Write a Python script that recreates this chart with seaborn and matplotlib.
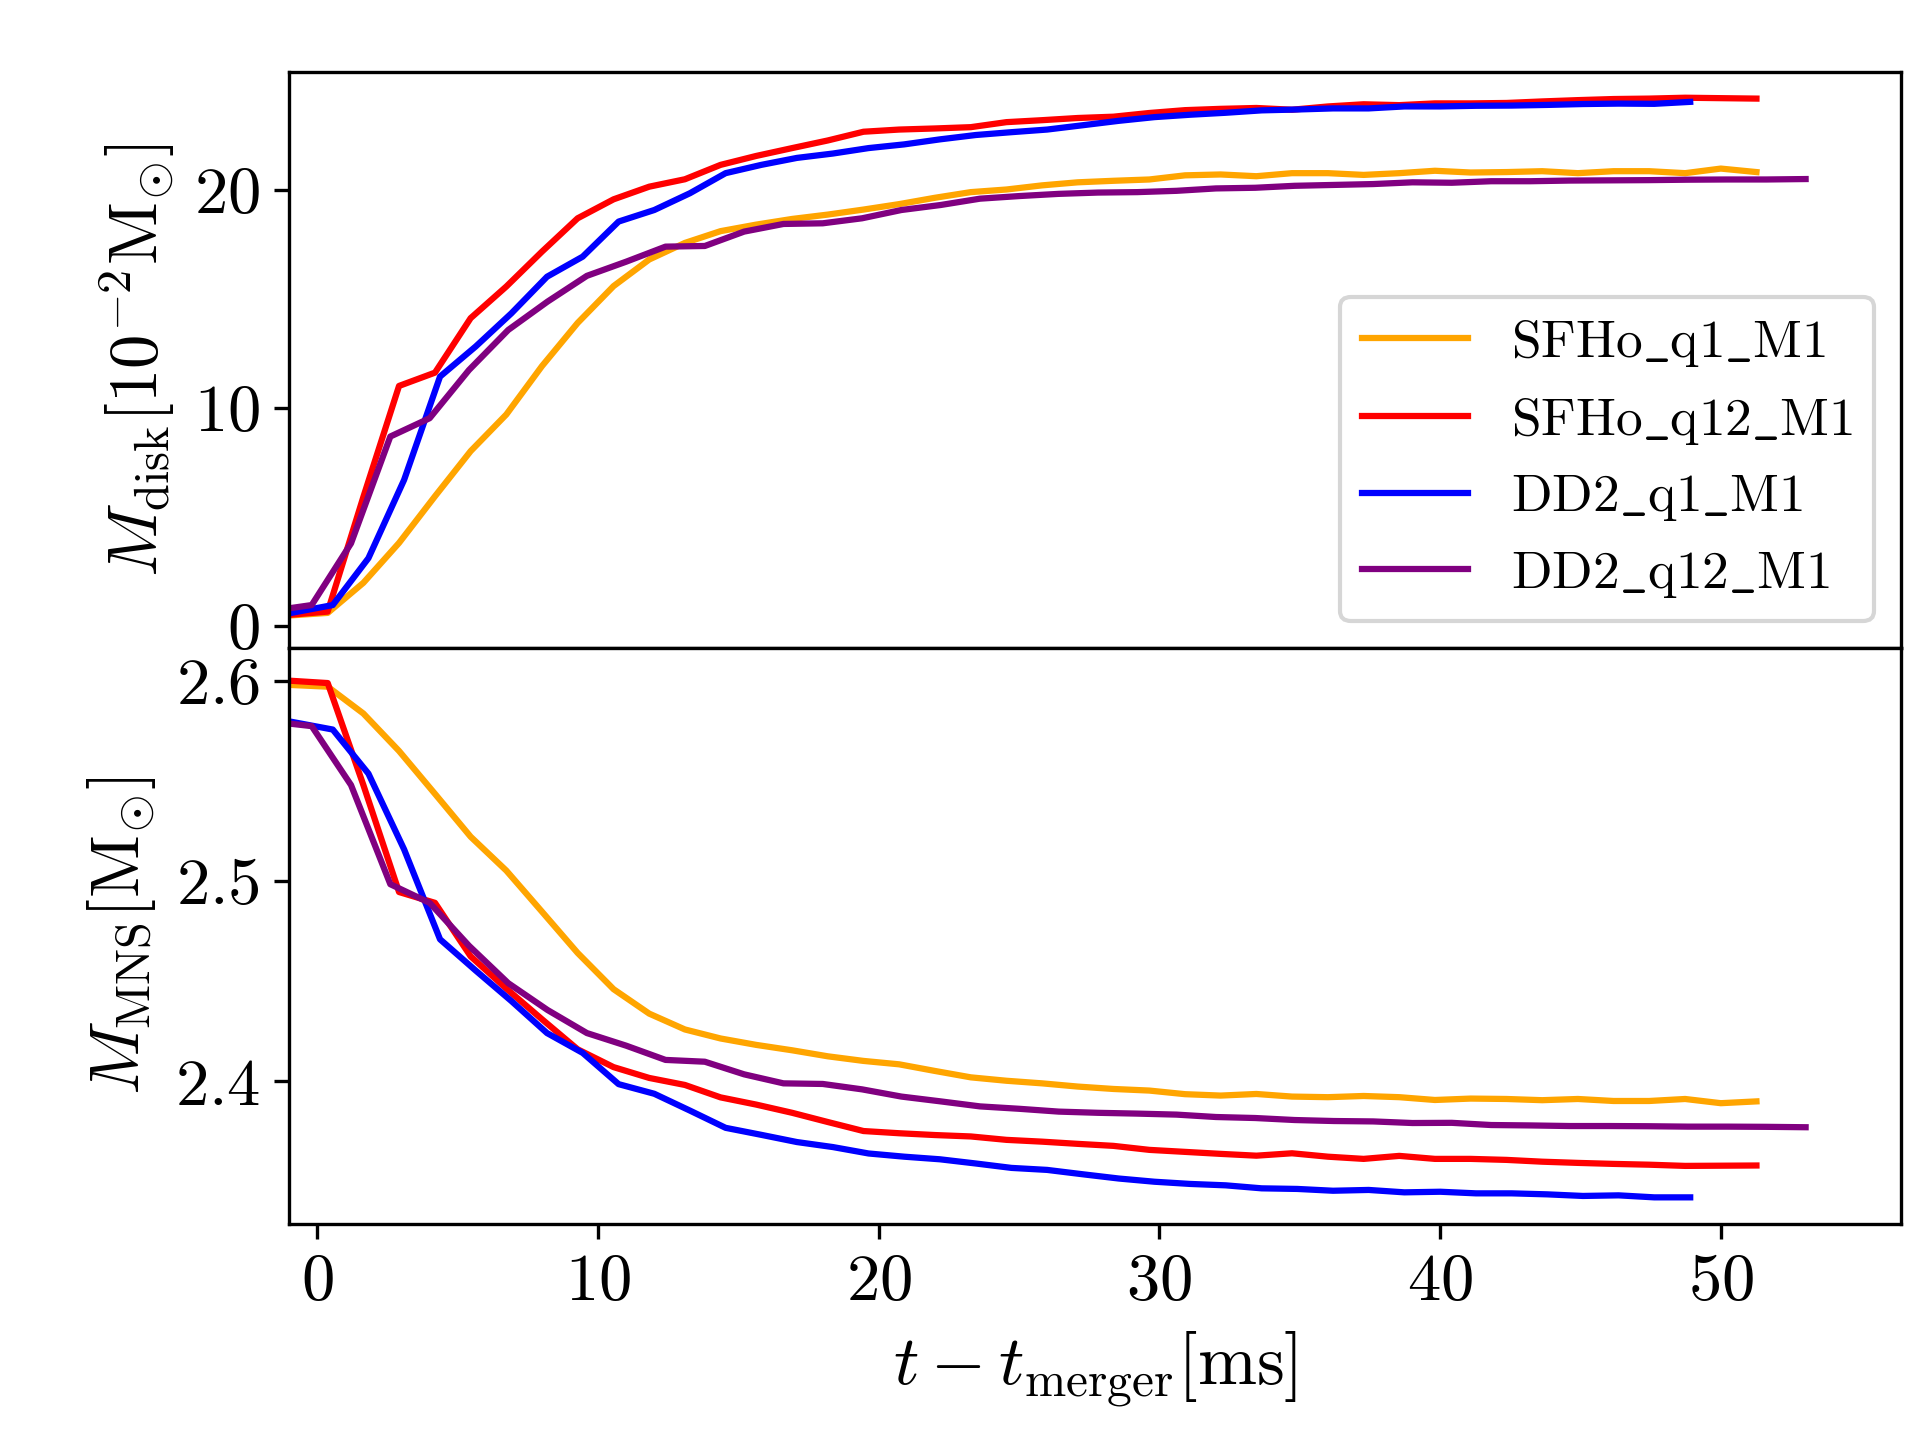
import seaborn as sns
import pandas as pd
import matplotlib.pyplot as plt

# time grids (t - t_merger, ms)
t_sfho = [-1.0, 0.38, 1.65, 2.92, 4.20, 5.47, 6.74, 8.01, 9.28, 10.56, 11.83, 13.10, 14.37, 15.64,
          16.92, 18.19, 19.46, 20.73, 22.00, 23.28, 24.55, 25.82, 27.09, 28.36, 29.64, 30.91, 32.18,
          33.45, 34.72, 36.00, 37.27, 38.54, 39.81, 41.08, 42.36, 43.63, 44.90, 46.17, 47.44, 48.72,
          49.99, 51.26]
t_dd2_q1 = [-1.0, 0.56, 1.83, 3.10, 4.38, 5.65, 6.92, 8.19, 9.46, 10.74, 12.01, 13.28, 14.55, 15.82,
            17.09, 18.37, 19.64, 20.91, 22.18, 23.46, 24.73, 26.00, 27.28, 28.55, 29.82, 31.09, 32.36,
            33.64, 34.91, 36.18, 37.45, 38.72, 40.00, 41.27, 42.54, 43.81, 45.08, 46.35, 47.62, 48.90]
t_dd2_q12 = [-1.0, -0.19, 1.21, 2.61, 4.01, 5.41, 6.81, 8.21, 9.61, 11.01, 12.41, 13.81, 15.21, 16.61,
             18.01, 19.41, 20.81, 22.21, 23.61, 25.01, 26.41, 27.81, 29.21, 30.61, 32.01, 33.41, 34.81,
             36.21, 37.61, 39.01, 40.41, 41.81, 43.21, 44.61, 46.01, 47.41, 48.81, 50.21, 51.61, 53.01]

# disk mass [1e-2 Msun]
disk_sfho_q1 = [0.46, 0.58, 1.96, 3.79, 5.93, 8.00, 9.68, 11.90, 13.88, 15.57, 16.79, 17.55, 18.09, 18.39,
                18.65, 18.85, 19.08, 19.33, 19.62, 19.88, 20.00, 20.19, 20.33, 20.40, 20.46, 20.65, 20.69,
                20.61, 20.75, 20.75, 20.67, 20.75, 20.86, 20.78, 20.80, 20.84, 20.75, 20.84, 20.84, 20.75,
                20.96, 20.80]
disk_sfho_q12 = [0.49, 0.64, 5.90, 10.99, 11.60, 14.10, 15.55, 17.15, 18.68, 19.55, 20.13, 20.47, 21.13, 21.54,
                 21.90, 22.25, 22.65, 22.75, 22.80, 22.86, 23.09, 23.18, 23.28, 23.34, 23.51, 23.64, 23.70,
                 23.74, 23.66, 23.81, 23.91, 23.87, 23.95, 23.95, 23.97, 24.04, 24.10, 24.15, 24.17, 24.21,
                 24.19, 24.17]
disk_dd2_q1 = [0.56, 0.94, 3.09, 6.68, 11.42, 12.80, 14.32, 16.00, 16.92, 18.53, 19.06, 19.83, 20.75, 21.13,
               21.45, 21.65, 21.90, 22.07, 22.30, 22.50, 22.63, 22.75, 22.95, 23.15, 23.32, 23.43, 23.52,
               23.63, 23.67, 23.72, 23.72, 23.81, 23.81, 23.84, 23.85, 23.88, 23.92, 23.94, 23.93, 24.02]
disk_dd2_q12 = [0.79, 0.94, 3.77, 8.67, 9.51, 11.72, 13.56, 14.86, 16.04, 16.69, 17.38, 17.41, 18.07, 18.42,
                18.45, 18.68, 19.06, 19.29, 19.58, 19.70, 19.80, 19.86, 19.88, 19.94, 20.05, 20.08, 20.17,
                20.21, 20.25, 20.33, 20.31, 20.38, 20.38, 20.41, 20.42, 20.43, 20.45, 20.46, 20.46, 20.48]

# remnant mass [Msun]
mns_sfho_q1 = [2.5979, 2.5970, 2.5836, 2.5649, 2.5435, 2.5221, 2.5052, 2.4847, 2.4641, 2.4460, 2.4338,
               2.4259, 2.4214, 2.4182, 2.4155, 2.4125, 2.4102, 2.4085, 2.4052, 2.4020, 2.4003, 2.3990,
               2.3974, 2.3962, 2.3954, 2.3936, 2.3929, 2.3937, 2.3924, 2.3921, 2.3927, 2.3921, 2.3907,
               2.3914, 2.3912, 2.3906, 2.3912, 2.3902, 2.3902, 2.3912, 2.3891, 2.3900]
mns_sfho_q12 = [2.6000, 2.5988, 2.5479, 2.4945, 2.4891, 2.4624, 2.4463, 2.4310, 2.4160, 2.4071, 2.4017,
                2.3982, 2.3920, 2.3884, 2.3843, 2.3797, 2.3752, 2.3741, 2.3732, 2.3725, 2.3708, 2.3699,
                2.3688, 2.3678, 2.3658, 2.3648, 2.3638, 2.3629, 2.3641, 2.3624, 2.3613, 2.3628, 2.3613,
                2.3613, 2.3608, 2.3599, 2.3593, 2.3588, 2.3584, 2.3578, 2.3579, 2.3580]
mns_dd2_q1 = [2.5797, 2.5756, 2.5536, 2.5158, 2.4709, 2.4553, 2.4401, 2.4241, 2.4142, 2.3986, 2.3938,
              2.3854, 2.3768, 2.3733, 2.3697, 2.3672, 2.3640, 2.3624, 2.3611, 2.3590, 2.3568, 2.3558,
              2.3536, 2.3515, 2.3499, 2.3488, 2.3481, 2.3466, 2.3463, 2.3454, 2.3458, 2.3446, 2.3449,
              2.3441, 2.3441, 2.3436, 2.3428, 2.3431, 2.3421, 2.3421]
mns_dd2_q12 = [2.5786, 2.5773, 2.5479, 2.4984, 2.4891, 2.4677, 2.4490, 2.4356, 2.4241, 2.4178, 2.4107,
               2.4098, 2.4035, 2.3990, 2.3987, 2.3960, 2.3924, 2.3900, 2.3875, 2.3863, 2.3849, 2.3843,
               2.3839, 2.3834, 2.3822, 2.3817, 2.3807, 2.3802, 2.3800, 2.3792, 2.3793, 2.3782, 2.3780,
               2.3777, 2.3777, 2.3776, 2.3774, 2.3774, 2.3773, 2.3771]

labels = [r'$\mathrm{SFHo\_q1\_M1}$', r'$\mathrm{SFHo\_q12\_M1}$',
          r'$\mathrm{DD2\_q1\_M1}$', r'$\mathrm{DD2\_q12\_M1}$']
colors = ['orange', 'red', 'blue', 'purple']
times = [t_sfho, t_sfho, t_dd2_q1, t_dd2_q12]
disks = [disk_sfho_q1, disk_sfho_q12, disk_dd2_q1, disk_dd2_q12]
mnss = [mns_sfho_q1, mns_sfho_q12, mns_dd2_q1, mns_dd2_q12]

plt.rcParams['mathtext.fontset'] = 'cm'
plt.rcParams['font.family'] = 'serif'
plt.rcParams['font.serif'] = ['cmr10', 'DejaVu Serif']
plt.rcParams['axes.formatter.use_mathtext'] = True
plt.rcParams['axes.unicode_minus'] = False

fig, (ax1, ax2) = plt.subplots(2, 1, figsize=(6.4, 4.8), dpi=300, sharex=True)
fig.subplots_adjust(left=0.1505, right=0.990, bottom=0.15, top=0.95, hspace=0)

for t, d, m, lab, c in zip(times, disks, mnss, labels, colors):
    df = pd.DataFrame({'t': t, 'disk': d, 'mns': m})
    sns.lineplot(data=df, x='t', y='disk', color=c, label=lab, lw=1.5, ax=ax1, estimator=None)
    sns.lineplot(data=df, x='t', y='mns', color=c, lw=1.5, ax=ax2, estimator=None)

ax1.set_xlim(-1, 56.4)
ax1.set_ylim(-1.03, 25.39)
ax2.set_ylim(2.3288, 2.6163)
ax1.set_yticks([0, 10, 20])
ax2.set_yticks([2.4, 2.5, 2.6])
ax2.set_xticks([0, 10, 20, 30, 40, 50])
ax1.tick_params(axis='x', bottom=False, labelbottom=False)
ax1.tick_params(axis='y', labelsize=16)
ax2.tick_params(labelsize=16)

ax1.set_xlabel('')
ax1.set_ylabel(r'$M_{\rm disk}[10^{-2}\rm M_{\odot}]$', fontsize=16.5)
ax2.set_ylabel(r'$M_{\rm MNS}[\rm M_{\odot}]$', fontsize=16.5)
ax2.set_xlabel(r'$t - t_{\rm merger}[\rm ms]$', fontsize=17)

ax1.legend(loc='lower right', fontsize=12.8)

fig.savefig('out.png', dpi=300)
